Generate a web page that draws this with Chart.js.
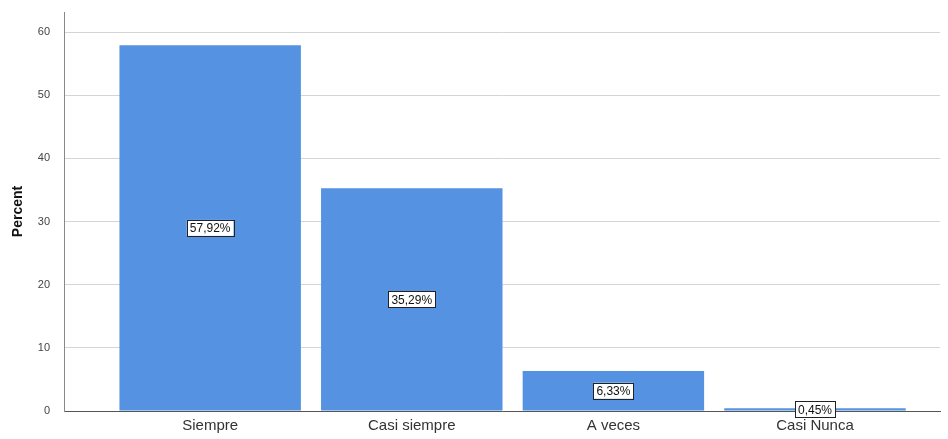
<!DOCTYPE html>
<html>
<head>
<meta charset="utf-8">
<script src="https://cdn.jsdelivr.net/npm/chart.js@4"></script>
<style>
  body { margin: 0; background: #fff; }
  canvas { display: block; }
</style>
</head>
<body>
<canvas id="percent_chart" width="948" height="439"></canvas>
<script>
const categories = ['Siempre', 'Casi siempre', 'A veces', 'Casi Nunca'];
const percents = [57.92, 35.29, 6.33, 0.45];
const yTicks = [0, 10, 20, 30, 40, 50, 60];

const barColor = '#5592e1';

// box with the value in the middle of each bar
const valueBoxes = {
  id: 'valueBoxes',
  afterDatasetsDraw(chart) {
    const c = chart.ctx;
    const meta = chart.getDatasetMeta(0);
    c.save();
    c.font = '12px "Liberation Sans", Arial, sans-serif';
    c.textAlign = 'center';
    c.textBaseline = 'middle';
    meta.data.forEach((bar, i) => {
      const txt = percents[i].toFixed(2).replace('.', ',') + '%';
      const w = c.measureText(txt).width + 6;
      const h = 16;
      const cx = bar.x;
      const cy = (bar.y + bar.base) / 2;
      c.fillStyle = '#fff';
      c.fillRect(cx - w / 2, cy - h / 2, w, h);
      c.strokeStyle = '#222';
      c.lineWidth = 1;
      c.strokeRect(Math.round(cx - w / 2) + 0.5, Math.round(cy - h / 2) + 0.5, Math.round(w), h);
      c.fillStyle = '#111';
      c.fillText(txt, cx, cy + 1);
    });
    c.restore();
  }
};

const chart = new Chart(document.getElementById('percent_chart'), {
  type: 'bar',
  data: {
    datasets: [{
      label: 'Percent',
      data: percents.map((v, i) => ({ x: i, y: v })),
      backgroundColor: barColor,
      borderWidth: 0,
      categoryPercentage: 1,
      barPercentage: 0.9
    }]
  },
  options: {
    responsive: false,
    animation: false,
    layout: { padding: { top: 12, right: 8, left: 0, bottom: 0 } },
    plugins: {
      legend: { display: false },
      tooltip: { enabled: false }
    },
    scales: {
      x: {
        type: 'linear',
        offset: false,
        min: -0.725,
        max: 3.62,
        grid: { display: false, drawTicks: false },
        border: { display: true, color: '#555', width: 1 },
        afterBuildTicks(scale) {
          scale.ticks = categories.map((c, i) => ({ value: i }));
        },
        afterFit(scale) {
          scale.height = 28;
          scale.paddingLeft = 0;
          scale.paddingRight = 0;
        },
        ticks: {
          autoSkip: false,
          maxRotation: 0,
          padding: 6,
          color: '#333',
          font: { size: 15, family: '"Liberation Sans", Arial, sans-serif' },
          callback: (v) => categories[v]
        }
      },
      y: {
        min: 0,
        max: 63.2,
        afterBuildTicks(scale) {
          scale.ticks = yTicks.map(v => ({ value: v }));
        },
        afterFit(scale) {
          scale.width = 64;
          scale.paddingTop = 0;
          scale.paddingBottom = 0;
        },
        grid: { color: '#d4d4d4', drawTicks: false },
        border: { display: true, color: '#888', width: 1 },
        ticks: {
          padding: 14,
          color: '#444',
          font: { size: 11, family: '"Liberation Sans", Arial, sans-serif' }
        },
        title: {
          display: true,
          text: 'Percent',
          color: '#111',
          padding: { top: 10, bottom: 0 },
          font: { size: 14, weight: 'bold', family: '"Liberation Sans", Arial, sans-serif' }
        }
      }
    }
  },
  plugins: [valueBoxes]
});
</script>
</body>
</html>
